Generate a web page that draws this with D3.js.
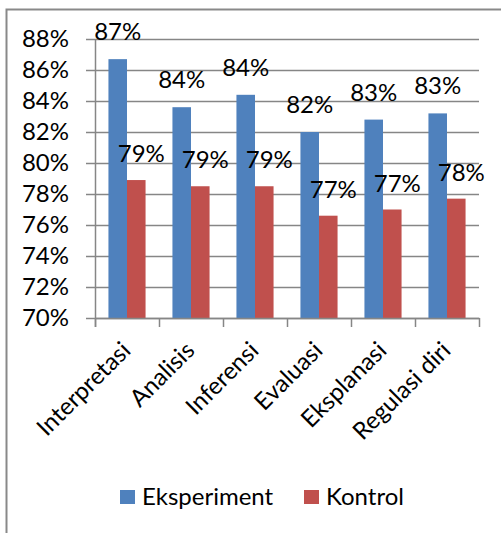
<!DOCTYPE html>
<html>
<head>
<meta charset="utf-8">
<script src="https://cdn.jsdelivr.net/npm/d3@7"></script>
<style>
  body { margin: 0; background: #fff; }
  svg text { font-family: Lato, "Open Sans", sans-serif; fill: #000; }
</style>
</head>
<body>
<svg id="chart" width="501" height="533"></svg>
<script>
const categories = ["Interpretasi", "Analisis", "Inferensi", "Evaluasi", "Eksplanasi", "Regulasi diri"];
const seriesNames = ["Eksperiment", "Kontrol"];
const eksperiment = [86.7, 83.6, 84.4, 82.0, 82.8, 83.2];
const kontrol = [78.9, 78.5, 78.5, 76.6, 77.0, 77.7];
const labelsEks = ["87%", "84%", "84%", "82%", "83%", "83%"];
const labelsKon = ["79%", "79%", "79%", "77%", "77%", "78%"];
const yTicks = [70, 72, 74, 76, 78, 80, 82, 84, 86, 88];
const colors = ["#4F81BD", "#C0504D"];

const svg = d3.select("#chart");
const plotLeft = 95, plotRight = 479, plotTop = 39, plotBottom = 318;
const fontSize = 24;

// frame of the chart area
svg.append("path")
    .attr("d", "M6.5,533 V9.5 H501")
    .attr("fill", "none")
    .attr("stroke", "#898989")
    .attr("stroke-width", 2);

const x = d3.scaleBand().domain(categories).range([plotLeft, plotRight]);
const y = d3.scaleLinear().domain([70, 88]).range([plotBottom, plotTop]);
const barW = x.bandwidth() * 0.29;
const groupOffset = (x.bandwidth() - 2 * barW) / 2;

// gridlines
svg.append("g").selectAll("line")
    .data(yTicks)
    .join("line")
    .attr("x1", plotLeft - 9)
    .attr("x2", plotRight)
    .attr("y1", d => Math.round(y(d)) + 0.5)
    .attr("y2", d => Math.round(y(d)) + 0.5)
    .attr("stroke", "#868686")
    .attr("stroke-width", 1.5);

// y axis labels
svg.append("g").selectAll("text")
    .data(yTicks)
    .join("text")
    .attr("x", 69)
    .attr("y", d => y(d) + 8)
    .attr("text-anchor", "end")
    .style("font-size", fontSize + "px")
    .text(d => d + "%");

// bars
const series = [eksperiment, kontrol];
series.forEach((vals, s) => {
    svg.append("g").selectAll("rect")
        .data(vals)
        .join("rect")
        .attr("x", (d, i) => x(categories[i]) + groupOffset + s * barW)
        .attr("y", d => y(d))
        .attr("width", barW)
        .attr("height", d => plotBottom - y(d))
        .attr("fill", colors[s]);
});

// axis lines
svg.append("line")
    .attr("x1", plotLeft + 0.5).attr("x2", plotLeft + 0.5)
    .attr("y1", plotTop).attr("y2", plotBottom + 9)
    .attr("stroke", "#868686").attr("stroke-width", 1.5);
svg.append("line")
    .attr("x1", plotLeft).attr("x2", plotRight + 0.5)
    .attr("y1", plotBottom + 0.5).attr("y2", plotBottom + 0.5)
    .attr("stroke", "#868686").attr("stroke-width", 1.5);
svg.append("g").selectAll("line")
    .data(categories.concat(["_end"]))
    .join("line")
    .attr("x1", (d, i) => Math.round(plotLeft + i * x.step()) + 0.5)
    .attr("x2", (d, i) => Math.round(plotLeft + i * x.step()) + 0.5)
    .attr("y1", plotBottom)
    .attr("y2", plotBottom + 9)
    .attr("stroke", "#868686").attr("stroke-width", 1.5);

// data labels
svg.append("g").selectAll("text")
    .data(eksperiment)
    .join("text")
    .attr("x", (d, i) => x(categories[i]) + groupOffset + barW / 2)
    .attr("y", d => y(d) - 19)
    .attr("text-anchor", "middle")
    .style("font-size", fontSize + "px")
    .text((d, i) => labelsEks[i]);
svg.append("g").selectAll("text")
    .data(kontrol)
    .join("text")
    .attr("x", (d, i) => x(categories[i]) + groupOffset + barW * 1.5 + 5)
    .attr("y", d => y(d) - 18)
    .attr("text-anchor", "middle")
    .style("font-size", fontSize + "px")
    .text((d, i) => labelsKon[i]);

// category labels
svg.append("g").selectAll("text")
    .data(categories)
    .join("text")
    .attr("transform", d => `translate(${x(d) + x.bandwidth() / 2 + 5},${352}) rotate(-45)`)
    .attr("text-anchor", "end")
    .style("font-size", fontSize + "px")
    .text(d => d);

// legend
const legend = svg.append("g");
const legendX = [120, 304];
seriesNames.forEach((name, i) => {
    legend.append("rect")
        .attr("x", legendX[i]).attr("y", 490)
        .attr("width", 15).attr("height", 14)
        .attr("fill", colors[i]);
    legend.append("text")
        .attr("x", legendX[i] + 22).attr("y", 505)
        .style("font-size", fontSize + "px")
        .text(name);
});
</script>
</body>
</html>
